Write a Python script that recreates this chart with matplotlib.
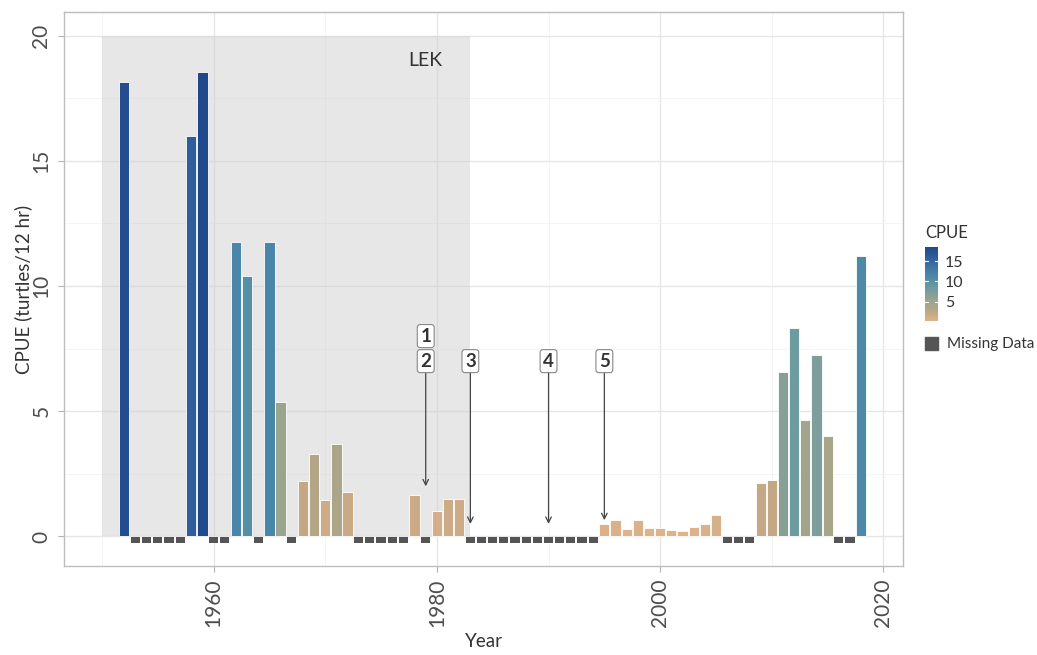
import matplotlib
matplotlib.use("Agg")
import matplotlib.pyplot as plt
import numpy as np
from matplotlib.colors import LinearSegmentedColormap, Normalize

plt.rcParams['font.family'] = ['Lato', 'DejaVu Sans']

# CPUE per survey year
years = [1952, 1958, 1959, 1962, 1963, 1965, 1966, 1968, 1969, 1970, 1971, 1972,
         1978, 1980, 1981, 1982,
         1995, 1996, 1997, 1998, 1999, 2000, 2001, 2002, 2003, 2004, 2005,
         2009, 2010, 2011, 2012, 2013, 2014, 2015, 2018]
cpue = [18.13, 16.0, 18.53, 11.77, 10.39, 11.77, 5.37, 2.22, 3.28, 1.46, 3.68, 1.79,
        1.66, 1.03, 1.48, 1.48,
        0.51, 0.66, 0.29, 0.66, 0.34, 0.34, 0.27, 0.23, 0.38, 0.50, 0.85,
        2.14, 2.27, 6.57, 8.32, 4.64, 7.25, 4.01, 11.19]

missing_years = ([1953, 1954, 1955, 1956, 1957, 1960, 1961, 1964, 1967]
                 + list(range(1973, 1978)) + [1979] + list(range(1983, 1995))
                 + [2006, 2007, 2008, 2016, 2017])

# event markers
event_labels = ["1", "2", "3", "4", "5"]
event_x = [1979, 1979, 1983, 1990, 1995]
event_y = [8.0, 7.0, 7.0, 7.0, 7.0]
arrow_x = [1979, 1983, 1990, 1995]
arrow_top = [6.55, 6.55, 6.55, 6.55]
arrow_end = [2.0, 0.5, 0.5, 0.65]

lek_start, lek_end = 1950, 1983

cmap = LinearSegmentedColormap.from_list("cpue", [
    (0.00, "#DFB28A"), (0.10, "#C6A885"), (0.17, "#B0A687"), (0.28, "#9AA48F"),
    (0.35, "#879F96"), (0.44, "#6E9CA0"), (0.55, "#5590A5"), (0.63, "#4A86A8"),
    (0.86, "#2E5F9A"), (1.00, "#214A8D")])
norm = Normalize(vmin=min(cpue), vmax=max(cpue))

fig = plt.figure(figsize=(10.37, 6.55), dpi=100)
ax = fig.add_axes([64/1037, 1-566/655, (903-64)/1037, (566-12)/655])

# LEK period shading
ax.fill_between([lek_start, lek_end], 0, 20, color="#D0D0D0", alpha=0.5, lw=0, zorder=1)
ax.text(1979, 19.0, "LEK", fontsize=14, color="#333333", ha="center", va="center", zorder=5)

ax.bar(years, cpue, width=0.92, color=cmap(norm(np.array(cpue))),
       edgecolor="white", linewidth=0.6, zorder=3)
ax.bar(missing_years, [0.24]*len(missing_years), bottom=-0.26, width=0.82,
       color="#555555", linewidth=0, zorder=3)

for xa, yt, ye in zip(arrow_x, arrow_top, arrow_end):
    ax.annotate("", xy=(xa, ye), xytext=(xa, yt),
                arrowprops=dict(arrowstyle="->", color="#444444", lw=0.9,
                                mutation_scale=10, shrinkA=0, shrinkB=0), zorder=4)
for lab, xl, yl in zip(event_labels, event_x, event_y):
    ax.text(xl, yl, lab, fontsize=13.5, fontweight="bold", color="#333333",
            ha="center", va="center", zorder=6,
            bbox=dict(boxstyle="round,pad=0.16,rounding_size=0.15",
                      fc="white", ec="#888888", lw=0.8))

ax.set_xlim(1946.6, 2021.75)
ax.set_ylim(-1.18, 20.94)
ax.set_xticks([1960, 1980, 2000, 2020])
ax.set_xticks([1950, 1970, 1990, 2010], minor=True)
ax.set_yticks([0, 5, 10, 15, 20])
ax.set_yticks([2.5, 7.5, 12.5, 17.5], minor=True)
ax.grid(True, which="major", color="#E6E6E6", lw=1.0, zorder=0)
ax.grid(True, which="minor", color="#F2F2F2", lw=0.6, zorder=0)
ax.set_axisbelow(True)
ax.tick_params(axis="both", which="major", length=4, color="#B3B3B3",
               labelsize=15, labelcolor="#4D4D4D", pad=5)
ax.tick_params(axis="both", which="minor", length=0)
plt.setp(ax.get_xticklabels(), rotation=90)
plt.setp(ax.get_yticklabels(), rotation=90, va="center")
for s in ax.spines.values():
    s.set_color("#BDBDBD")
    s.set_linewidth(1.0)

ax.set_xlabel("Year", fontsize=13.5, color="#333333")
ax.set_ylabel("CPUE (turtles/12 hr)", fontsize=13.5, color="#333333")
ax.xaxis.set_label_coords(0.5, (566-633)/554)
ax.yaxis.set_label_coords((32-64)/839, 0.5)

# legend: colourbar
cax = fig.add_axes([925/1037, 1-321/655, 13/1037, 74/655])
grad = np.linspace(min(cpue), max(cpue), 256).reshape(-1, 1)
cax.imshow(grad, aspect="auto", cmap=cmap, norm=norm, origin="lower",
           extent=[0, 1, min(cpue), max(cpue)])
cax.set_xticks([])
cax.set_yticks([5, 10, 15])
cax.yaxis.tick_right()
cax.tick_params(axis="y", length=0, labelsize=11.5, labelcolor="#333333", pad=5)
for t in [5, 10, 15]:
    cax.plot([0, 0.2], [t, t], color="white", lw=0.8)
    cax.plot([0.8, 1], [t, t], color="white", lw=0.8)
cax.set_xlim(0, 1)
for s in cax.spines.values():
    s.set_visible(False)
fig.text(925/1037, 1-233/655, "CPUE", fontsize=12, color="#333333", va="center")

# legend: missing data key
fig.patches.append(plt.Rectangle((925/1037, 1-350/655), 13/1037, 13/655,
                                 transform=fig.transFigure, color="#555555"))
fig.text(947/1037, 1-344/655, "Missing Data", fontsize=11, color="#333333", va="center")

fig.savefig("out.png", dpi=100)
